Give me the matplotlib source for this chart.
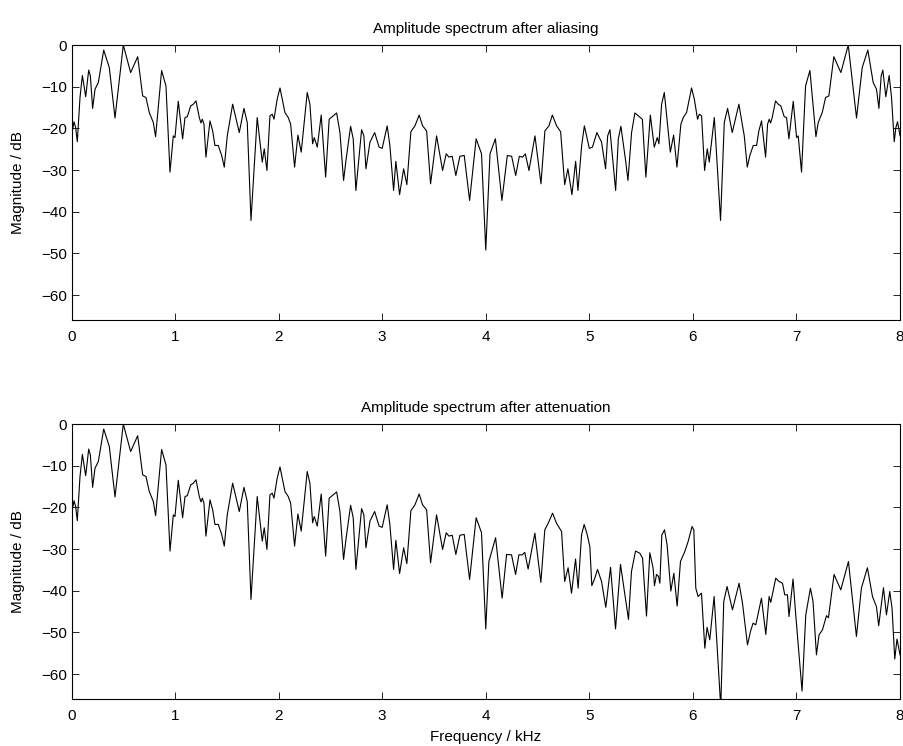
import numpy as np
import matplotlib
matplotlib.use("Agg")
import matplotlib.pyplot as plt

# spectrum 0-4 kHz (identical in both panels)
freq_low = [0.000, 0.024, 0.040, 0.056, 0.082, 0.105, 0.137, 0.166, 0.182, 0.204,
            0.227, 0.259, 0.311, 0.365, 0.420, 0.500, 0.571, 0.639, 0.687, 0.719,
            0.751, 0.790, 0.812, 0.870, 0.912, 0.951, 0.983, 0.999, 1.031, 1.073,
            1.096, 1.118, 1.151, 1.176, 1.202, 1.234, 1.250, 1.263, 1.279, 1.298,
            1.337, 1.363, 1.385, 1.417, 1.450, 1.475, 1.504, 1.556, 1.620, 1.665,
            1.697, 1.733, 1.793, 1.842, 1.861, 1.887, 1.916, 1.938, 1.955, 1.986,
            2.013, 2.061, 2.093, 2.116, 2.154, 2.186, 2.218, 2.276, 2.302, 2.328,
            2.344, 2.373, 2.411, 2.454, 2.488, 2.527, 2.560, 2.592, 2.627, 2.650,
            2.695, 2.720, 2.746, 2.801, 2.823, 2.843, 2.882, 2.927, 2.970, 3.000,
            3.048, 3.074, 3.110, 3.132, 3.168, 3.207, 3.238, 3.277, 3.316, 3.357,
            3.390, 3.429, 3.467, 3.525, 3.583, 3.618, 3.644, 3.676, 3.711, 3.750,
            3.792, 3.844, 3.907, 3.959, 4.000]
mag_low = [-21.8, -18.4, -19.8, -23.2, -12.6, -7.3, -12.4, -6.0, -7.4, -15.2,
           -10.6, -9.0, -1.2, -5.4, -17.5, 0.0, -6.6, -2.8, -12.2, -12.6,
           -16.2, -18.6, -22.0, -6.1, -9.8, -30.5, -21.8, -22.2, -13.5, -22.5,
           -17.4, -17.2, -14.6, -14.2, -13.4, -17.4, -18.7, -17.8, -19.0, -26.9,
           -18.2, -20.6, -24.1, -24.1, -26.5, -29.3, -21.8, -14.2, -21.0, -15.2,
           -18.6, -42.1, -17.4, -28.1, -24.9, -30.1, -17.0, -16.6, -17.8, -13.0,
           -10.3, -16.2, -17.4, -19.0, -29.3, -21.6, -25.7, -11.4, -14.2, -23.7,
           -22.2, -24.5, -16.8, -31.7, -17.8, -17.0, -16.3, -21.0, -32.5, -27.7,
           -19.5, -22.5, -34.9, -20.3, -21.8, -29.7, -23.3, -21.0, -24.5, -24.8,
           -19.4, -24.1, -34.9, -27.9, -35.9, -29.7, -33.5, -20.8, -19.4, -16.8,
           -19.4, -20.6, -33.3, -21.8, -30.1, -26.1, -26.9, -26.7, -31.3, -26.7,
           -26.5, -37.3, -22.5, -26.1, -49.2]

# aliased spectrum 4-8 kHz (top panel)
freq_alias = [4.041, 4.093, 4.156, 4.208, 4.250, 4.289, 4.324, 4.356, 4.382, 4.417,
              4.475, 4.533, 4.571, 4.610, 4.643, 4.684, 4.723, 4.762, 4.793, 4.832,
              4.868, 4.890, 4.926, 4.952, 5.000, 5.030, 5.073, 5.118, 5.157, 5.177,
              5.199, 5.254, 5.280, 5.305, 5.350, 5.373, 5.408, 5.440, 5.473, 5.512,
              5.546, 5.589, 5.627, 5.656, 5.672, 5.698, 5.724, 5.782, 5.814, 5.846,
              5.884, 5.907, 5.939, 5.987, 6.014, 6.045, 6.062, 6.084, 6.113, 6.139,
              6.158, 6.207, 6.267, 6.303, 6.335, 6.380, 6.444, 6.496, 6.525, 6.550,
              6.583, 6.615, 6.637, 6.663, 6.702, 6.721, 6.737, 6.750, 6.766, 6.798,
              6.824, 6.849, 6.882, 6.904, 6.927, 6.969, 7.001, 7.017, 7.049, 7.088,
              7.130, 7.188, 7.210, 7.249, 7.281, 7.313, 7.361, 7.429, 7.500, 7.580,
              7.635, 7.689, 7.741, 7.773, 7.796, 7.818, 7.834, 7.863, 7.895, 7.918,
              7.944, 7.960, 7.976, 8.000]
mag_alias = [-26.1, -22.5, -37.3, -26.5, -26.7, -31.3, -26.7, -26.9, -26.1, -30.1,
             -21.8, -33.3, -20.6, -19.4, -16.8, -19.4, -20.8, -33.5, -29.7, -35.9,
             -27.9, -34.9, -24.1, -19.4, -24.8, -24.5, -21.0, -23.3, -29.7, -21.8,
             -20.3, -34.9, -22.5, -19.5, -27.7, -32.5, -21.0, -16.3, -17.0, -17.8,
             -31.7, -16.8, -24.5, -22.2, -23.7, -14.2, -11.4, -25.7, -21.6, -29.3,
             -19.0, -17.4, -16.2, -10.3, -13.0, -17.8, -16.6, -17.0, -30.1, -24.9,
             -28.1, -17.4, -42.1, -18.6, -15.2, -21.0, -14.2, -21.8, -29.3, -26.5,
             -24.1, -24.1, -20.6, -18.2, -26.9, -19.0, -17.8, -18.7, -17.4, -13.4,
             -14.2, -14.6, -17.2, -17.4, -22.5, -13.5, -22.2, -21.8, -30.5, -9.8,
             -6.1, -22.0, -18.6, -16.2, -12.6, -12.2, -2.8, -6.6, 0.0, -17.5,
             -5.4, -1.2, -9.0, -10.6, -15.2, -7.4, -6.0, -12.4, -7.3, -12.6,
             -23.2, -19.8, -18.4, -21.8]

# attenuated spectrum 4-8 kHz (bottom panel)
freq_atten = [4.030, 4.095, 4.158, 4.201, 4.249, 4.288, 4.320, 4.352, 4.377, 4.409,
              4.474, 4.532, 4.570, 4.603, 4.645, 4.683, 4.732, 4.762, 4.795, 4.828,
              4.867, 4.892, 4.925, 4.950, 4.979, 5.005, 5.024, 5.053, 5.079, 5.118,
              5.159, 5.205, 5.253, 5.301, 5.343, 5.378, 5.407, 5.446, 5.487, 5.514,
              5.552, 5.584, 5.616, 5.629, 5.649, 5.668, 5.681, 5.700, 5.726, 5.751,
              5.787, 5.816, 5.848, 5.880, 5.922, 5.954, 5.992, 6.009, 6.028, 6.050,
              6.083, 6.115, 6.137, 6.163, 6.205, 6.269, 6.298, 6.330, 6.382, 6.446,
              6.479, 6.527, 6.556, 6.581, 6.607, 6.662, 6.704, 6.736, 6.752, 6.800,
              6.832, 6.865, 6.887, 6.913, 6.928, 6.967, 6.993, 7.054, 7.090, 7.135,
              7.160, 7.193, 7.218, 7.251, 7.290, 7.309, 7.363, 7.428, 7.502, 7.579,
              7.627, 7.685, 7.734, 7.772, 7.794, 7.840, 7.869, 7.901, 7.923, 7.949,
              7.971, 8.000]
mag_atten = [-33.0, -27.3, -41.8, -31.3, -31.4, -36.1, -31.4, -31.4, -30.8, -34.8,
             -26.2, -38.0, -25.4, -23.8, -21.4, -23.8, -25.8, -37.8, -34.5, -40.6,
             -32.4, -39.4, -26.6, -24.1, -26.5, -29.4, -38.8, -37.0, -34.9, -37.8,
             -44.0, -34.4, -49.2, -33.7, -41.0, -46.9, -35.4, -30.5, -31.0, -32.2,
             -46.1, -30.9, -34.6, -38.8, -36.1, -36.6, -38.2, -26.6, -25.4, -29.0,
             -40.1, -35.8, -43.7, -33.0, -30.6, -28.2, -24.6, -25.4, -39.4, -41.4,
             -40.6, -53.8, -48.8, -51.8, -41.4, -68.0, -42.6, -39.0, -44.6, -38.2,
             -43.0, -53.0, -49.8, -47.8, -48.2, -41.8, -50.5, -41.4, -42.8, -37.0,
             -37.8, -38.2, -41.0, -41.0, -46.2, -37.2, -45.8, -64.1, -45.8, -39.4,
             -42.6, -55.4, -50.6, -49.4, -46.0, -46.5, -36.1, -39.8, -33.0, -51.0,
             -39.4, -34.5, -41.4, -43.8, -48.4, -39.3, -45.8, -40.2, -44.2, -56.4,
             -51.6, -55.4]

x_ticks = [0, 1, 2, 3, 4, 5, 6, 7, 8]
y_ticks = [-60, -50, -40, -30, -20, -10, 0]

plt.rcParams['font.family'] = ['Liberation Sans', 'DejaVu Sans']
plt.rcParams['font.size'] = 11

fig = plt.figure(figsize=(9.04, 7.46), dpi=100)
ax1 = fig.add_axes([0.0791, 0.5710, 0.9165, 0.3686])
ax2 = fig.add_axes([0.0791, 0.0630, 0.9165, 0.3686])

ax1.plot(freq_low + freq_alias, mag_low + mag_alias, color='black', linewidth=0.8)
ax2.plot(freq_low + freq_atten, mag_low + mag_atten, color='black', linewidth=0.8)

ax1.set_title('Amplitude spectrum after aliasing', fontsize=11, pad=9)
ax2.set_title('Amplitude spectrum after attenuation', fontsize=11, pad=9)
ax2.set_xlabel('Frequency / kHz', labelpad=5)

for ax in (ax1, ax2):
    ax.set_xlim(0, 8)
    ax.set_ylim(-66, 0)
    ax.set_xticks(x_ticks)
    ax.set_yticks(y_ticks)
    ax.set_ylabel('Magnitude / dB', labelpad=11)
    ax.tick_params(direction='in', length=5, width=0.6, top=True, right=True)
    ax.tick_params(axis='x', pad=7)
    for sp in ax.spines.values():
        sp.set_linewidth(0.8)

fig.savefig('out.png', dpi=100, facecolor='white')
